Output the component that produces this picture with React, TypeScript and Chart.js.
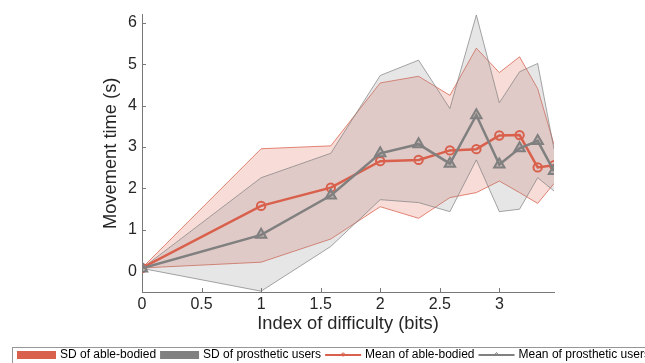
import React, { useEffect, useRef } from 'react';
import { Chart, registerables } from 'chart.js';

Chart.register(...registerables);

// ---- data ----
const indexOfDifficulty = [0, 1, 1.585, 2, 2.322, 2.585, 2.807, 3, 3.17, 3.322, 3.459];
const meanAble = [0.08, 1.58, 2.02, 2.66, 2.69, 2.92, 2.95, 3.28, 3.29, 2.51, 2.56];
const meanProsthetic = [0.07, 0.88, 1.83, 2.85, 3.07, 2.6, 3.77, 2.58, 2.97, 3.15, 2.42];
const sdAbleUpper = [0.08, 2.96, 3.03, 4.55, 4.71, 4.25, 5.39, 4.8, 5.18, 4.41, 3.06];
const sdAbleLower = [0.08, 0.22, 0.78, 1.56, 1.28, 1.78, 1.9, 2.18, 1.9, 1.64, 2.12];
const sdProstheticUpper = [0.07, 2.26, 2.85, 4.73, 5.1, 3.93, 6.19, 4.07, 4.82, 5.02, 2.95];
const sdProstheticLower = [0.07, -0.48, 0.6, 1.73, 1.66, 1.44, 2.69, 1.44, 1.5, 2.26, 1.94];
const xTicks = [0, 0.5, 1, 1.5, 2, 2.5, 3];
const yTicks = [0, 1, 2, 3, 4, 5, 6];
const legendLabels = ['SD of able-bodied', 'SD of prosthetic users', 'Mean of able-bodied', 'Mean of prosthetic users'];
const xTitle = 'Index of difficulty (bits)';
const yTitle = 'Movement time (s)';

const RED = 'rgb(217,96,76)';
const GREY = 'rgb(128,128,128)';
const AXIS = 'rgb(120,120,120)';
const TEXT = 'rgb(38,38,38)';
const FONT = "'Liberation Sans', Arial, Helvetica, sans-serif";

const pts = (ys: number[]) => ys.map((y, i) => ({ x: indexOfDifficulty[i], y }));

const inwardTicks = {
  id: 'inwardTicks',
  afterDatasetsDraw(chart: any) {
    const { ctx, chartArea, scales } = chart;
    ctx.save();
    ctx.strokeStyle = AXIS;
    ctx.lineWidth = 1;
    ctx.beginPath();
    scales.x.ticks.forEach((t: any) => {
      const px = Math.round(scales.x.getPixelForValue(t.value)) + 0.5;
      ctx.moveTo(px, chartArea.bottom);
      ctx.lineTo(px, chartArea.bottom - 4);
    });
    scales.y.ticks.forEach((t: any) => {
      const py = Math.round(scales.y.getPixelForValue(t.value)) + 0.5;
      ctx.moveTo(chartArea.left, py);
      ctx.lineTo(chartArea.left + 4, py);
    });
    ctx.stroke();
    ctx.restore();
  },
};

const boxLegend = {
  id: 'boxLegend',
  afterDraw(chart: any) {
    const ctx = chart.ctx;
    ctx.save();
    ctx.fillStyle = '#fff';
    ctx.fillRect(12.5, 347.5, 660, 20);
    ctx.strokeStyle = 'rgb(150,150,150)';
    ctx.lineWidth = 1;
    ctx.strokeRect(12.5, 347.5, 660, 20);
    ctx.font = `12px ${FONT}`;
    ctx.textBaseline = 'middle';
    const cy = 355;
    let x = 17;
    const items = chart.data.datasets.filter((d: any) => d.legendKind);
    items.forEach((d: any) => {
      const w = d.legendKind === 'patch' ? 39 : 36;
      if (d.legendKind === 'patch') {
        ctx.fillStyle = d.legendColor;
        ctx.fillRect(x, cy - 4, w, 8);
      } else {
        ctx.strokeStyle = d.legendColor;
        ctx.lineWidth = 2;
        ctx.beginPath();
        ctx.moveTo(x, cy);
        ctx.lineTo(x + w, cy);
        ctx.stroke();
        ctx.lineWidth = 1;
        ctx.beginPath();
        if (d.legendKind === 'circle') {
          ctx.arc(x + w / 2, cy - 0.5, 1.5, 0, Math.PI * 2);
        } else {
          ctx.moveTo(x + w / 2 - 2, cy);
          ctx.lineTo(x + w / 2 + 2, cy);
          ctx.lineTo(x + w / 2, cy - 2.5);
          ctx.closePath();
        }
        ctx.stroke();
      }
      x += w + 4;
      ctx.fillStyle = '#000';
      ctx.fillText(d.label, x, cy);
      x += ctx.measureText(d.label).width + 4;
    });
    ctx.restore();
  },
};

export default function App() {
  const ref = useRef<HTMLCanvasElement | null>(null);
  useEffect(() => {
    if (!ref.current) return;
    const chart = new Chart(ref.current, {
      type: 'line',
      data: {
        datasets: [
          {
            label: legendLabels[0],
            legendKind: 'patch',
            legendColor: RED,
            data: pts(sdAbleUpper),
            fill: '+1',
            backgroundColor: 'rgba(217,96,76,0.22)',
            borderColor: 'rgba(217,96,76,0.75)',
            borderWidth: 1,
            pointRadius: 0,
            order: 5,
          },
          {
            label: '',
            data: pts(sdAbleLower),
            fill: false,
            borderColor: 'rgba(217,96,76,0.75)',
            borderWidth: 1,
            pointRadius: 0,
            order: 4,
          },
          {
            label: legendLabels[1],
            legendKind: 'patch',
            legendColor: GREY,
            data: pts(sdProstheticUpper),
            fill: '+1',
            backgroundColor: 'rgba(128,128,128,0.2)',
            borderColor: 'rgba(128,128,128,0.7)',
            borderWidth: 1,
            pointRadius: 0,
            order: 3,
          },
          {
            label: '',
            data: pts(sdProstheticLower),
            fill: false,
            borderColor: 'rgba(128,128,128,0.7)',
            borderWidth: 1,
            pointRadius: 0,
            order: 2,
          },
          {
            label: legendLabels[2],
            legendKind: 'circle',
            legendColor: RED,
            data: pts(meanAble),
            fill: false,
            borderColor: RED,
            borderWidth: 2.5,
            pointStyle: 'circle',
            pointRadius: 4.2,
            pointBorderWidth: 2,
            pointBorderColor: RED,
            pointBackgroundColor: 'rgba(0,0,0,0)',
            order: 1,
          },
          {
            label: legendLabels[3],
            legendKind: 'triangle',
            legendColor: GREY,
            data: pts(meanProsthetic),
            fill: false,
            borderColor: GREY,
            borderWidth: 2.5,
            pointStyle: 'triangle',
            pointRadius: 6,
            pointBorderWidth: 2,
            pointBorderColor: GREY,
            pointBackgroundColor: 'rgba(128,128,128,0.35)',
            order: 0,
          },
        ] as any,
      },
      options: {
        responsive: false,
        animation: false,
        devicePixelRatio: 1,
        layout: { padding: { left: 90, right: 91, top: 12, bottom: 26 } },
        plugins: { legend: { display: false }, tooltip: { enabled: false } },
        elements: { line: { tension: 0 } },
        scales: {
          x: {
            type: 'linear',
            min: 0,
            max: 3.459,
            afterBuildTicks: (s: any) => {
              s.ticks = xTicks.map((v) => ({ value: v }));
            },
            afterFit: (s: any) => {
              s.height = 45;
            },
            grid: { display: false, drawTicks: false },
            border: { display: true, color: AXIS, width: 1 },
            ticks: {
              padding: 3,
              color: TEXT,
              font: { family: FONT, size: 16 },
              maxRotation: 0,
              autoSkip: false,
              callback: (v: any) => String(v),
            },
            title: {
              display: true,
              text: xTitle,
              color: TEXT,
              font: { family: FONT, size: 18.3 },
              padding: { top: 0, bottom: 2 },
            },
          },
          y: {
            type: 'linear',
            min: -0.5,
            max: 6.2,
            afterBuildTicks: (s: any) => {
              s.ticks = yTicks.map((v) => ({ value: v }));
            },
            afterFit: (s: any) => {
              s.width = 52;
            },
            grid: { display: false, drawTicks: false },
            border: { display: true, color: AXIS, width: 1 },
            ticks: {
              padding: 5,
              color: TEXT,
              font: { family: FONT, size: 16 },
              autoSkip: false,
              callback: (v: any) => String(v),
            },
            title: {
              display: true,
              text: yTitle,
              color: TEXT,
              font: { family: FONT, size: 18.3 },
              padding: { top: 10, bottom: 0 },
            },
          },
        },
      },
      plugins: [inwardTicks, boxLegend],
    } as any);
    return () => chart.destroy();
  }, []);
  return (
    <div style={{ position: 'absolute', left: 0, top: 0, width: 645, height: 363 }}>
      <canvas ref={ref} width={645} height={363} style={{ display: 'block' }} />
    </div>
  );
}
